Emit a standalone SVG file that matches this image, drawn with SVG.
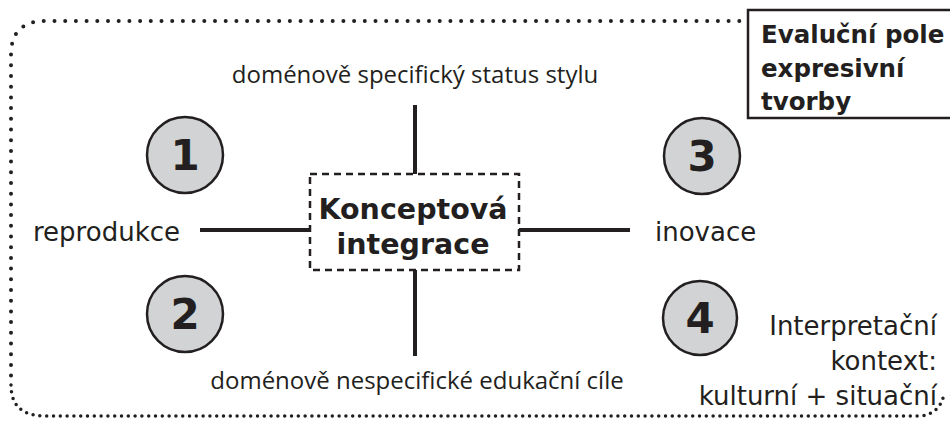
<svg xmlns="http://www.w3.org/2000/svg" width="950" height="421" viewBox="0 0 950 421">
<style>
.dots{fill:none;stroke:#231f20;stroke-width:4;stroke-linecap:round;stroke-dasharray:0 10.7}
.dotsb{fill:none;stroke:#231f20;stroke-width:3.5;stroke-linecap:round;stroke-dasharray:0 6.8}
.num{fill:#d1d3d4;stroke:#231f20;stroke-width:2.5}
.numt{font-family:"DejaVu Sans",sans-serif;font-weight:bold;font-size:42px;fill:#231f20;text-anchor:middle}
.lab{font-family:"DejaVu Sans",sans-serif;font-size:26px;fill:#231f20}
.lab2{font-family:"Open Sans",sans-serif;font-size:24px;fill:#231f20;text-anchor:middle}
.bold{font-family:"DejaVu Sans",sans-serif;font-weight:bold;fill:#231f20}
.axis{stroke:#231f20;stroke-width:4;fill:none}
</style>
<g id="frame">
<path class="dots" d="M750 21 H45 Q11 21 11 55 V385"/>
<path class="dotsb" d="M11 385 Q11 416 45 416 H920 Q940 414 944 394"/>
</g>
<g id="title">
<rect x="748" y="10" width="210" height="108" fill="#fff" stroke="#231f20" stroke-width="2.5"/>
<text class="bold" x="761" y="43" font-size="24.5">Evaluční pole</text>
<text class="bold" x="761" y="77" font-size="24.5">expresivní</text>
<text class="bold" x="761" y="110" font-size="24.5">tvorby</text>
</g>
<g id="connectors">
<line class="axis" x1="415" y1="105" x2="415" y2="174"/>
<line class="axis" x1="415" y1="270" x2="415" y2="356"/>
<line class="axis" x1="200" y1="230" x2="310" y2="230"/>
<line class="axis" x1="519" y1="230" x2="630" y2="230"/>
</g>
<g id="center">
<rect x="310" y="174" width="209" height="96" fill="#fff" stroke="#231f20" stroke-width="2.5" stroke-dasharray="7 5"/>
<text class="bold" x="413" y="219" font-size="28.5" text-anchor="middle">Konceptová</text>
<text class="bold" x="413" y="254" font-size="28.5" text-anchor="middle">integrace</text>
</g>
<g id="n1"><circle class="num" cx="185" cy="155" r="38"/><text class="numt" x="185" y="170">1</text></g>
<g id="n2"><circle class="num" cx="185" cy="314" r="38"/><text class="numt" x="185" y="329">2</text></g>
<g id="n3"><circle class="num" cx="702" cy="156" r="38"/><text class="numt" x="702" y="171">3</text></g>
<g id="n4"><circle class="num" cx="700" cy="318" r="37"/><text class="numt" x="700" y="333">4</text></g>
<g id="top"><text class="lab2" x="415" y="83">doménově specifický status stylu</text></g>
<g id="bottom"><text class="lab2" x="417" y="389">doménově nespecifické edukační cíle</text></g>
<g id="left"><text class="lab" x="33" y="241">reprodukce</text></g>
<g id="right"><text class="lab" x="655" y="241">inovace</text></g>
<g id="context">
<text class="lab" x="937" y="335" text-anchor="end">Interpretační</text>
<text class="lab" x="937" y="370" text-anchor="end">kontext:</text>
<text class="lab" x="937" y="405" text-anchor="end">kulturní + situační</text>
</g>
</svg>
